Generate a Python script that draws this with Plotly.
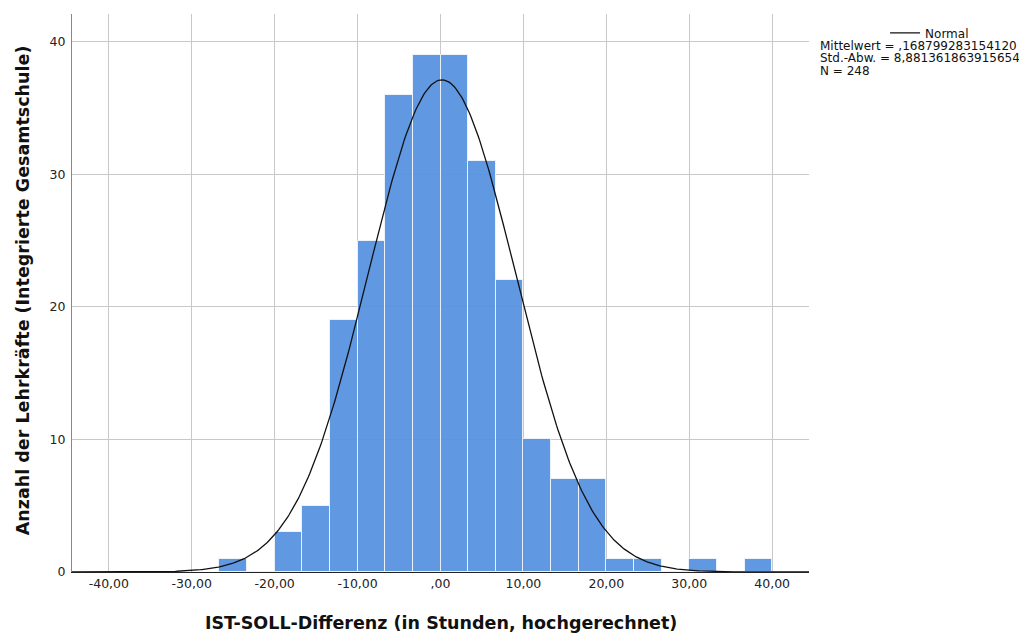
import numpy as np
import plotly.graph_objects as go

########## Data ##########
bin_starts = [-26.667, -23.333, -20.0, -16.667, -13.333, -10.0, -6.667, -3.333,
              0.0, 3.333, 6.667, 10.0, 13.333, 16.667, 20.0, 23.333,
              26.667, 30.0, 33.333, 36.667]
counts = [1, 0, 3, 5, 19, 25, 36, 39,
          39, 31, 22, 10, 7, 7, 1, 1,
          0, 1, 0, 1]
bin_width = 10 / 3

mean = 0.168799283154120
std = 8.881361863915654
n = 248

x_ticks = [-40, -30, -20, -10, 0, 10, 20, 30, 40]
x_tick_labels = ['-40,00', '-30,00', '-20,00', '-10,00', ',00',
                 '10,00', '20,00', '30,00', '40,00']
y_ticks = [0, 10, 20, 30, 40]

stats_lines = [
    'Mittelwert = ,168799283154120',
    'Std.-Abw. = 8,881361863915654',
    'N = 248',
]

x_title = 'IST-SOLL-Differenz (in Stunden, hochgerechnet)'
y_title = 'Anzahl der Lehrkräfte (Integrierte Gesamtschule)'

FONT = 'DejaVu Sans, Arial, sans-serif'


########## Histogram with normal curve ##########
# the page body has an 8px margin, so the figure is 8px smaller than the window
def plot_histogram(width=1019, height=626):
    centers = [s + bin_width / 2 for s in bin_starts]

    # fitted normal curve (scaled to counts)
    xs = np.linspace(-44.44, 44.44, 500)
    ys = n * bin_width / (std * np.sqrt(2 * np.pi)) * np.exp(-0.5 * ((xs - mean) / std) ** 2)

    fig = go.Figure()
    fig.add_trace(go.Bar(
        x=centers,
        y=counts,
        width=bin_width,
        marker=dict(color='#5592e0', line=dict(color='rgba(235,242,252,1)', width=1)),
        opacity=0.93,
        showlegend=False,
        hoverinfo='x+y',
    ))
    fig.add_trace(go.Scatter(
        x=xs,
        y=ys,
        mode='lines',
        line=dict(color='#111111', width=1.3),
        name='Normal',
        showlegend=True,
    ))

    # stats block under the legend
    for i, txt in enumerate(stats_lines):
        fig.add_annotation(
            text=txt,
            xref='paper', yref='paper',
            x=1.0122, y=0.9427 - i * 0.0222,
            xanchor='left', yanchor='middle',
            showarrow=False,
            font=dict(family=FONT, size=12, color='#111111'),
        )

    # axis titles
    fig.add_annotation(
        text='<b>' + x_title + '</b>',
        xref='paper', yref='paper', x=0.5, y=-0.0914,
        xanchor='center', yanchor='middle', showarrow=False,
        font=dict(family=FONT, size=17.5, color='#111111'),
    )
    fig.add_annotation(
        text='<b>' + y_title + '</b>',
        xref='paper', yref='paper', x=-0.0665, y=0.505,
        xanchor='center', yanchor='middle', showarrow=False, textangle=-90,
        font=dict(family=FONT, size=17.5, color='#111111'),
    )

    fig.update_layout(
        width=width,
        height=height,
        margin=dict(l=64, r=218, t=6, b=62, autoexpand=False),
        plot_bgcolor='white',
        paper_bgcolor='white',
        bargap=0,
        font=dict(family=FONT, size=12.5, color='#222222'),
        legend=dict(
            x=1.1032, y=0.966,
            xanchor='left', yanchor='middle',
            font=dict(family=FONT, size=12, color='#111111'),
            bgcolor='rgba(0,0,0,0)',
            itemwidth=30,
        ),
    )
    fig.update_xaxes(
        range=[-44.44, 44.44],
        tickvals=x_ticks,
        ticktext=x_tick_labels,
        showgrid=True,
        gridcolor='#c8c8c8',
        gridwidth=1,
        zeroline=False,
        showline=True,
        linecolor='#222222',
        linewidth=1,
        ticks='',
        automargin=False,
        tickfont=dict(family=FONT, size=12.5, color='#222222'),
    )
    fig.update_yaxes(
        range=[0, 42.1],
        tickvals=y_ticks,
        showgrid=True,
        gridcolor='#c8c8c8',
        gridwidth=1,
        zeroline=False,
        showline=True,
        linecolor='#888888',
        linewidth=1,
        ticks='',
        automargin=False,
        ticklabelstandoff=3,
        tickfont=dict(family=FONT, size=12.5, color='#222222'),
    )
    return fig


fig = plot_histogram()
fig.write_html('out.html')
